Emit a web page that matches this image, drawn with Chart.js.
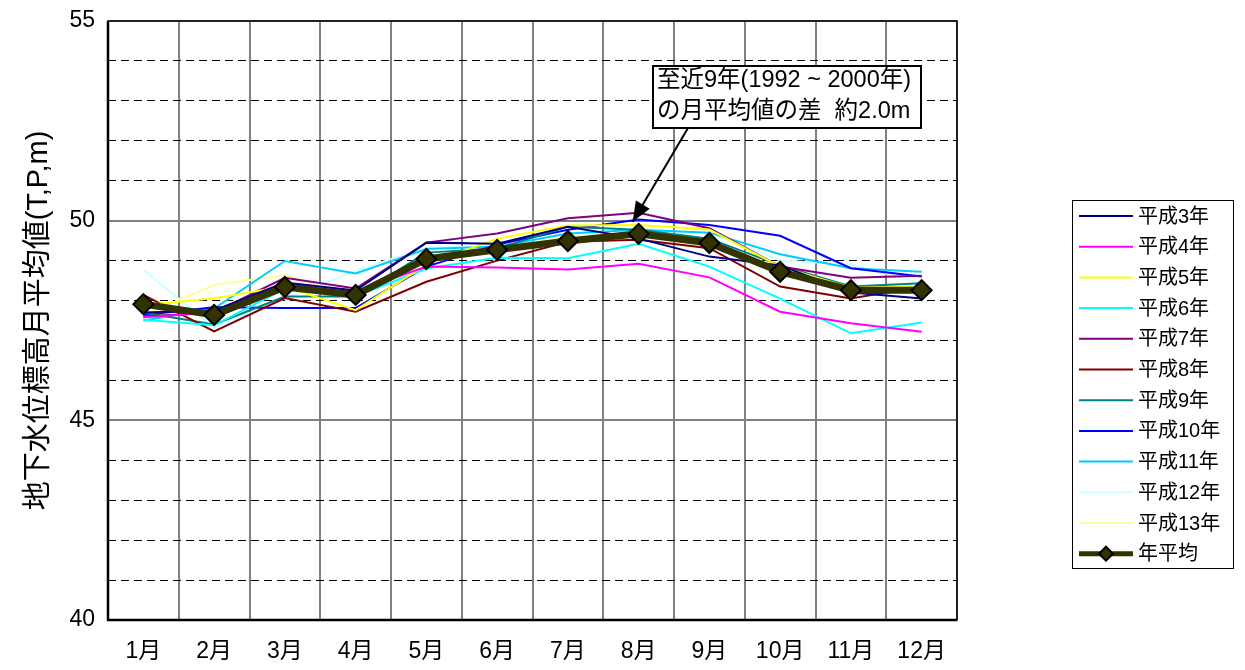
<!DOCTYPE html>
<html lang="ja">
<head>
<meta charset="utf-8">
<title>地下水位標高月平均値</title>
<script src="https://cdn.jsdelivr.net/npm/chart.js@4.4.1/dist/chart.umd.min.js"></script>
<style>
  html, body { margin: 0; padding: 0; background: #fff; }
  #wrap { width: 1245px; height: 670px; }
</style>
</head>
<body>
<div id="wrap"><canvas id="levelChart" width="1245" height="670"></canvas></div>
<script>
'use strict';

// months on the x axis
const months = ['1月', '2月', '3月', '4月', '5月', '6月', '7月', '8月', '9月', '10月', '11月', '12月'];

// monthly mean groundwater level (T.P. m)
const h03 = [47.70, 47.75, 48.45, 48.25, 49.45, 49.42, 49.85, 49.55, 49.10, 48.88, 48.20, 48.05];
const h04 = [47.58, 47.70, 48.42, 48.22, 48.85, 48.83, 48.78, 48.92, 48.58, 47.72, 47.43, 47.22];
const h05 = [47.88, 48.06, 48.35, 47.76, 48.90, 49.55, 49.88, 49.89, 49.78, 48.85, 48.32, 48.35];
const h06 = [47.52, 47.38, 48.30, 48.10, 48.80, 49.07, 49.06, 49.42, 48.85, 48.05, 47.18, 47.45];
const h07 = [47.60, 47.70, 48.57, 48.30, 49.45, 49.68, 50.06, 50.20, 49.81, 48.85, 48.57, 48.62];
const h08 = [48.14, 47.23, 48.06, 47.72, 48.47, 49.00, 49.47, 49.52, 49.31, 48.35, 48.05, 48.35];
const h09 = [47.70, 47.40, 48.10, 48.10, 49.20, 49.30, 49.85, 49.77, 49.55, 48.88, 48.35, 48.43];
const h10 = [47.64, 47.83, 47.81, 47.81, 48.85, 49.40, 49.77, 50.03, 49.89, 49.62, 48.81, 48.60];
const h11 = [47.50, 47.80, 48.99, 48.68, 49.29, 49.35, 49.68, 49.77, 49.70, 49.16, 48.81, 48.72];
const h12 = [48.77, 47.32, 48.05, 48.75, 49.33, 49.35, 49.70, 49.65, 49.70, 49.00, 48.90, 48.43];
const h13 = [47.64, 48.39, 48.64, 48.10, 49.00, 49.30, 49.60, 49.70, 49.50, 48.80, 48.30, 48.30];
const yearAvg = [47.91, 47.64, 48.34, 48.14, 49.04, 49.27, 49.49, 49.67, 49.44, 48.72, 48.26, 48.26];

const seriesNames = ['平成3年', '平成4年', '平成5年', '平成6年', '平成7年', '平成8年',
                     '平成9年', '平成10年', '平成11年', '平成12年', '平成13年'];
const seriesData = [h03, h04, h05, h06, h07, h08, h09, h10, h11, h12, h13];
const seriesColors = ['#000080', '#ff00ff', '#ffff00', '#00ffff', '#800080', '#800000',
                      '#008080', '#0000ff', '#00ccff', '#ccffff', '#ffff99'];
const avgName = '年平均';

const yTicks = [40, 45, 50, 55];
const noteLines = ['至近9年(1992 ~ 2000年)', 'の月平均値の差  約2.0m'];

const FONT = "'Liberation Sans', 'Noto Sans CJK JP', sans-serif";
const AVG_COLOR = '#333300';

document.addEventListener('DOMContentLoaded', function () {
    const ctx = document.getElementById('levelChart').getContext('2d');

    const datasets = seriesNames.map((name, i) => ({
        label: name,
        data: seriesData[i],
        borderColor: seriesColors[i],
        backgroundColor: seriesColors[i],
        borderWidth: 2,
        pointRadius: 0,
        pointHoverRadius: 0,
        tension: 0,
        order: 1
    }));
    datasets.push({
        label: avgName,
        data: yearAvg,
        borderColor: AVG_COLOR,
        backgroundColor: AVG_COLOR,
        borderWidth: 7,
        pointStyle: 'rectRot',
        pointRadius: 10,
        pointBackgroundColor: AVG_COLOR,
        pointBorderColor: '#000',
        pointBorderWidth: 2,
        tension: 0,
        order: 0
    });

    // frame round the plot area
    const frame = {
        id: 'frame',
        beforeDatasetsDraw(chart) {
            const { ctx: c, chartArea: a } = chart;
            c.save();
            c.strokeStyle = '#000';
            c.lineWidth = 1.5;
            c.strokeRect(a.left, a.top, a.right - a.left, a.bottom - a.top);
            c.lineWidth = 2.5;
            c.beginPath();
            c.moveTo(a.left, a.top);
            c.lineTo(a.left, a.bottom);
            c.lineTo(a.right, a.bottom);
            c.stroke();
            c.restore();
        }
    };

    // legend box on the right
    const sideLegend = {
        id: 'sideLegend',
        afterDraw(chart) {
            const c = chart.ctx;
            const x0 = 1072, y0 = 200, w = 161, h = 368, step = 30.7;
            c.save();
            c.fillStyle = '#fff';
            c.fillRect(x0, y0, w, h);
            c.strokeStyle = '#000';
            c.lineWidth = 1;
            c.strokeRect(x0 + 0.5, y0 + 0.5, w, h);
            c.font = '20px ' + FONT;
            c.textBaseline = 'middle';
            chart.data.datasets.forEach((ds, i) => {
                const y = y0 + 16 + i * step;
                c.strokeStyle = ds.borderColor;
                c.lineWidth = ds.label === avgName ? 5 : 2;
                c.beginPath();
                c.moveTo(1079, y);
                c.lineTo(1133, y);
                c.stroke();
                if (ds.label === avgName) {
                    c.fillStyle = AVG_COLOR;
                    c.strokeStyle = '#000';
                    c.lineWidth = 2;
                    c.beginPath();
                    c.moveTo(1106, y - 7);
                    c.lineTo(1113, y);
                    c.lineTo(1106, y + 7);
                    c.lineTo(1099, y);
                    c.closePath();
                    c.fill();
                    c.stroke();
                }
                c.fillStyle = '#000';
                c.fillText(ds.label, 1138, y + 1);
            });
            c.restore();
        }
    };

    // note box with arrow to the August mean
    const note = {
        id: 'note',
        afterDraw(chart) {
            const c = chart.ctx;
            const xs = chart.scales.x, ys = chart.scales.y;
            const tipX = xs.getPixelForValue(7) - 6;
            const tipY = ys.getPixelForValue(49.97);
            const fromX = 688, fromY = 128;
            c.save();
            c.strokeStyle = '#000';
            c.fillStyle = '#000';
            c.lineWidth = 2;
            c.beginPath();
            c.moveTo(fromX, fromY);
            c.lineTo(tipX, tipY);
            c.stroke();
            const ang = Math.atan2(tipY - fromY, tipX - fromX);
            const len = 20, half = 8;
            const bx = tipX - len * Math.cos(ang), by = tipY - len * Math.sin(ang);
            c.beginPath();
            c.moveTo(tipX, tipY);
            c.lineTo(bx + half * Math.sin(ang), by - half * Math.cos(ang));
            c.lineTo(bx - half * Math.sin(ang), by + half * Math.cos(ang));
            c.closePath();
            c.fill();
            c.fillStyle = '#fff';
            c.fillRect(653, 66, 268, 62);
            c.strokeRect(653, 66, 268, 62);
            c.fillStyle = '#000';
            c.font = '23.5px ' + FONT;
            c.textBaseline = 'middle';
            c.fillText(noteLines[0], 657, 81);
            c.fillText(noteLines[1], 657, 112);
            c.restore();
        }
    };

    new Chart(ctx, {
        type: 'line',
        data: { labels: months, datasets: datasets },
        options: {
            responsive: false,
            devicePixelRatio: 1,
            animation: false,
            events: [],
            layout: { padding: { left: 0, top: 21, right: 288, bottom: 0 } },
            plugins: { legend: { display: false }, tooltip: { enabled: false } },
            scales: {
                x: {
                    offset: true,
                    grid: { offset: true, color: '#808080', lineWidth: 2, drawTicks: false },
                    border: { display: false },
                    ticks: { color: '#000', font: { family: FONT, size: 23 }, padding: 18, maxRotation: 0 },
                    afterFit(s) { s.height = 50; }
                },
                y: {
                    min: 40, max: 55,
                    position: 'left',
                    grid: {
                        drawTicks: false,
                        lineWidth: 1,
                        color: c => (c.tick && c.tick.value % 5 === 0) ? 'rgba(0,0,0,0)' : '#000'
                    },
                    border: { display: false, dash: [8, 5] },
                    ticks: {
                        stepSize: 1,
                        autoSkip: false,
                        color: '#000',
                        padding: 13,
                        font: { family: FONT, size: 23 },
                        callback: v => yTicks.includes(v) ? String(v) : ''
                    },
                    title: {
                        display: true,
                        text: '地下水位標高月平均値(T,P,m)',
                        color: '#000',
                        font: { family: FONT, size: 29 },
                        padding: { top: 22, bottom: 0 }
                    },
                    // the layout padding alone sets the plot top
                    afterFit(s) { s.width = 108; s.paddingTop = 0; s.paddingBottom = 0; }
                },
                y5: {
                    min: 40, max: 55,
                    position: 'left',
                    grid: { drawTicks: false, color: '#808080', lineWidth: 2 },
                    border: { display: false },
                    ticks: { display: false, stepSize: 5 },
                    afterFit(s) { s.width = 0; s.paddingTop = 0; s.paddingBottom = 0; }
                }
            }
        },
        plugins: [frame, sideLegend, note]
    });
});
</script>
</body>
</html>
